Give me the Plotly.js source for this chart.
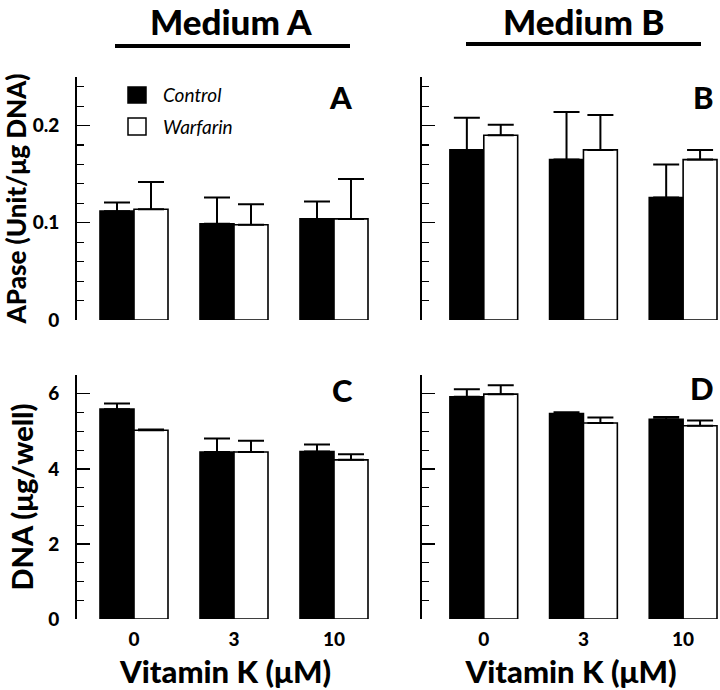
<!DOCTYPE html>
<html>
<head>
<meta charset="utf-8">
<script src="https://cdn.plot.ly/plotly-3.0.1.min.js"></script>
<style>html,body{margin:0;padding:0;background:#fff;}#chart{width:720px;height:690px;}</style>
</head>
<body>
<div id="chart"></div>
<script>
// ---- data ----
const doses = ['0', '3', '10'];
const noLower = [0, 0, 0];

const apaseA_control = [0.112, 0.099, 0.104];
const apaseA_controlErr = [0.009, 0.027, 0.018];
const apaseA_warfarin = [0.114, 0.098, 0.104];
const apaseA_warfarinErr = [0.028, 0.021, 0.041];

const apaseB_control = [0.175, 0.165, 0.126];
const apaseB_controlErr = [0.033, 0.049, 0.034];
const apaseB_warfarin = [0.190, 0.175, 0.165];
const apaseB_warfarinErr = [0.011, 0.036, 0.010];

const dnaA_control = [5.59, 4.45, 4.46];
const dnaA_controlErr = [0.15, 0.36, 0.19];
const dnaA_warfarin = [5.03, 4.45, 4.24];
const dnaA_warfarinErr = [0.02, 0.30, 0.15];

const dnaB_control = [5.92, 5.47, 5.32];
const dnaB_controlErr = [0.20, 0.04, 0.06];
const dnaB_warfarin = [5.99, 5.22, 5.15];
const dnaB_warfarinErr = [0.24, 0.15, 0.14];

const seriesNames = ['Control', 'Warfarin'];
const mediumTitles = ['Medium A', 'Medium B'];
const panelLetters = ['A', 'B', 'C', 'D'];
const yTitleTop = 'APase (Unit/μg DNA)';
const yTitleBottom = 'DNA (μg/well)';
const xTitle = 'Vitamin K (μM)';

// ---- helpers ----
const FONT = 'Lato, Open Sans, DejaVu Sans, sans-serif';
const HEAVY = 900;
function bar(name, y, err, fill, xa, ya) {
  return {
    type: 'bar', name: name, x: doses, y: y, xaxis: xa, yaxis: ya,
    showlegend: false,
    marker: {color: fill, line: {color: '#000', width: 1.6}},
    error_y: {type: 'data', symmetric: false, array: err, arrayminus: noLower,
              color: '#000', thickness: 2, width: 13},
    hoverinfo: 'x+y'
  };
}

const data = [
  bar(seriesNames[0], apaseA_control, apaseA_controlErr, '#000', 'x', 'y'),
  bar(seriesNames[1], apaseA_warfarin, apaseA_warfarinErr, '#fff', 'x', 'y'),
  bar(seriesNames[0], apaseB_control, apaseB_controlErr, '#000', 'x2', 'y2'),
  bar(seriesNames[1], apaseB_warfarin, apaseB_warfarinErr, '#fff', 'x2', 'y2'),
  bar(seriesNames[0], dnaA_control, dnaA_controlErr, '#000', 'x3', 'y3'),
  bar(seriesNames[1], dnaA_warfarin, dnaA_warfarinErr, '#fff', 'x3', 'y3'),
  bar(seriesNames[0], dnaB_control, dnaB_controlErr, '#000', 'x4', 'y4'),
  bar(seriesNames[1], dnaB_warfarin, dnaB_warfarinErr, '#fff', 'x4', 'y4')
];

const W = 720, H = 690;
const px = v => v / W;
const py = v => 1 - v / H;

const domXL = [px(77), px(374)];
const domXR = [px(422), 1];
const domYT = [py(320), py(77)];
const domYB = [py(619), py(375)];

function xaxis(domain, range, anchor, labels) {
  const a = {
    domain: domain, range: range, anchor: anchor, type: 'category',
    showline: false, showgrid: false, zeroline: false, ticks: '',
    showticklabels: labels,
    tickfont: {family: FONT, size: 19, color: '#000', weight: HEAVY},
    ticklabelstandoff: 7
  };
  if (labels) {
    a.title = {text: xTitle, font: {family: FONT, size: 31, color: '#000', weight: HEAVY}, standoff: 14};
  }
  return a;
}
function yaxis(domain, range, anchor, dtick, minor, labels, title, tsize) {
  const a = {
    domain: domain, range: range, anchor: anchor,
    showline: true, linecolor: '#000', linewidth: 2,
    showgrid: false, zeroline: false,
    ticks: 'inside', ticklen: 13, tickwidth: 1.3, tickcolor: '#000',
    dtick: dtick, tick0: 0,
    minor: {dtick: minor, ticks: 'inside', ticklen: 7, tickwidth: 1.1, tickcolor: '#000', showgrid: false},
    showticklabels: labels,
    tickfont: {family: FONT, size: 19, color: '#000', weight: HEAVY},
    ticklabelstandoff: 12
  };
  if (title) {
    a.title = {text: title, font: {family: FONT, size: tsize, color: '#000', weight: HEAVY}, standoff: 6};
  }
  return a;
}

const ann = [];
function addText(text, x, y, size) {
  ann.push({
    text: text, xref: 'paper', yref: 'paper', x: px(x), y: py(y),
    xanchor: 'center', yanchor: 'middle', showarrow: false,
    font: {family: FONT, size: size, color: '#000', weight: HEAVY}
  });
}
addText(mediumTitles[0], 231, 21, 35);
addText(mediumTitles[1], 584, 21, 35);
addText(panelLetters[0], 341, 97, 31);
addText(panelLetters[1], 703, 97, 31);
addText(panelLetters[2], 342, 390, 31);
addText(panelLetters[3], 702, 388, 31);
ann.push({text: seriesNames[0], xref: 'paper', yref: 'paper', x: px(161), y: py(95),
  xanchor: 'left', yanchor: 'middle', showarrow: false,
  font: {family: FONT, size: 19, color: '#000', style: 'italic'}});
ann.push({text: seriesNames[1], xref: 'paper', yref: 'paper', x: px(161), y: py(127),
  xanchor: 'left', yanchor: 'middle', showarrow: false,
  font: {family: FONT, size: 19, color: '#000', style: 'italic'}});

const shapes = [
  {type: 'line', xref: 'paper', yref: 'paper', x0: px(115), x1: px(350), y0: py(46), y1: py(46),
   line: {color: '#000', width: 4}},
  {type: 'line', xref: 'paper', yref: 'paper', x0: px(466), x1: px(701), y0: py(44), y1: py(44),
   line: {color: '#000', width: 4}},
  {type: 'rect', xref: 'paper', yref: 'paper', x0: px(128), x1: px(146), y0: py(103), y1: py(87),
   fillcolor: '#000', line: {color: '#000', width: 1.5}},
  {type: 'rect', xref: 'paper', yref: 'paper', x0: px(128), x1: px(146), y0: py(135), y1: py(118),
   fillcolor: '#fff', line: {color: '#000', width: 1.5}}
];

const layout = {
  width: W, height: H,
  margin: {l: 0, r: 0, t: 0, b: 0},
  paper_bgcolor: '#fff', plot_bgcolor: 'rgba(0,0,0,0)',
  showlegend: false,
  barmode: 'group', bargap: 0.32, bargroupgap: 0,
  font: {family: FONT, color: '#000'},
  xaxis: xaxis(domXL, [-0.57, 2.40], 'y', false),
  yaxis: yaxis(domYT, [0, 0.25], 'x', 0.1, 0.02, true, yTitleTop, 26),
  xaxis2: xaxis(domXR, [-0.62, 2.37], 'y2', false),
  yaxis2: yaxis(domYT, [0, 0.25], 'x2', 0.1, 0.02, false, null, 0),
  xaxis3: xaxis(domXL, [-0.57, 2.40], 'y3', true),
  yaxis3: yaxis(domYB, [0, 6.5], 'x3', 2, 0.5, true, yTitleBottom, 29),
  xaxis4: xaxis(domXR, [-0.62, 2.37], 'y4', true),
  yaxis4: yaxis(domYB, [0, 6.5], 'x4', 2, 0.5, false, null, 0),
  annotations: ann,
  shapes: shapes
};

Plotly.newPlot('chart', data, layout, {displayModeBar: false, staticPlot: true});
</script>
</body>
</html>
